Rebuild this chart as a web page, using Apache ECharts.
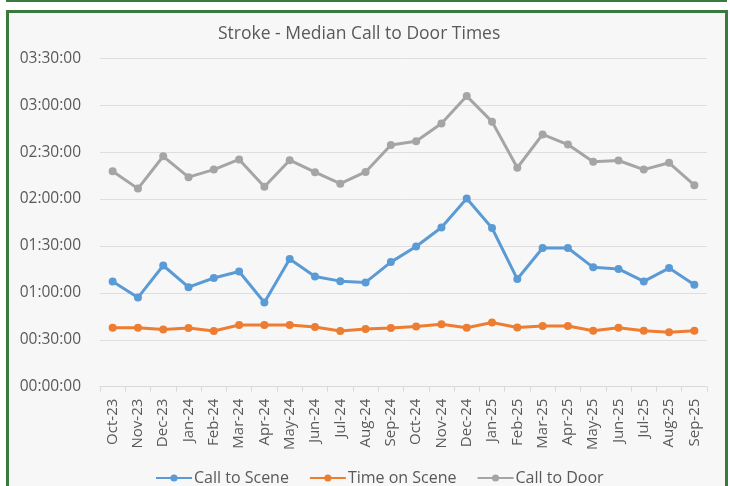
<!DOCTYPE html>
<html>
<head>
<meta charset="utf-8">
<script src="https://cdn.jsdelivr.net/npm/echarts@6/dist/echarts.min.js"></script>
<style>
  html, body { margin: 0; padding: 0; background: #ffffff; }
  #wrap { position: relative; width: 730px; height: 486px; overflow: hidden; background: #ffffff; }
  #topRule { position: absolute; left: 6px; top: 0; width: 721px; height: 2px; background: #3b7a3f; }
  #frame { position: absolute; left: 6px; top: 10px; width: 716px; height: 490px;
           border: 3px solid #3b7a3f; border-bottom: none; background: #f7f7f7; }
  #chart { position: absolute; left: 0; top: 0; width: 730px; height: 486px; }
</style>
</head>
<body>
<div id="wrap">
  <div id="topRule"></div>
  <div id="frame"></div>
  <div id="chart"></div>
</div>
<script>
// Months on the category axis
const months = ['Oct-23','Nov-23','Dec-23','Jan-24','Feb-24','Mar-24','Apr-24','May-24','Jun-24','Jul-24','Aug-24','Sep-24',
                'Oct-24','Nov-24','Dec-24','Jan-25','Feb-25','Mar-25','Apr-25','May-25','Jun-25','Jul-25','Aug-25','Sep-25'];

// Median times (h:mm:ss)
const callToScene = ['1:07:20','0:57:00','1:17:30','1:03:40','1:09:30','1:13:40','0:53:50','1:21:40','1:10:30','1:07:30','1:06:40','1:19:40',
                     '1:29:40','1:41:50','2:00:20','1:41:30','1:08:50','1:28:40','1:28:40','1:16:20','1:15:20','1:07:20','1:15:50','1:05:10'];
const timeOnScene = ['0:37:40','0:37:40','0:36:30','0:37:30','0:35:40','0:39:30','0:39:30','0:39:30','0:38:10','0:35:40','0:36:50','0:37:30',
                     '0:38:30','0:40:00','0:37:40','0:41:00','0:37:50','0:38:50','0:38:50','0:35:50','0:37:40','0:35:50','0:34:50','0:35:50'];
const callToDoor  = ['2:17:50','2:06:40','2:27:20','2:14:00','2:18:50','2:25:20','2:07:50','2:24:50','2:17:10','2:09:50','2:17:20','2:34:30',
                     '2:37:00','2:48:20','3:05:50','2:49:30','2:20:00','2:41:20','2:34:50','2:23:50','2:24:40','2:18:50','2:23:10','2:08:50'];

// Y axis tick range (seconds)
const yMax = 3.5 * 3600;
const yStep = 1800;

function toSeconds(t) {
  const p = t.split(':').map(Number);
  return p[0] * 3600 + p[1] * 60 + p[2];
}
function fmt(sec) {
  const h = Math.floor(sec / 3600), m = Math.floor((sec % 3600) / 60), s = sec % 60;
  const pad = n => String(n).padStart(2, '0');
  return pad(h) + ':' + pad(m) + ':' + pad(s);
}

const FONT = '"Open Sans", "Noto Sans", sans-serif';
const TXT = '#595959';

function lineSeries(name, data, color) {
  return {
    name: name,
    type: 'line',
    data: data.map(toSeconds),
    symbol: 'circle',
    symbolSize: 8,
    lineStyle: { width: 3, color: color },
    itemStyle: { color: color },
    emphasis: { disabled: true }
  };
}

const chart = echarts.init(document.getElementById('chart'), null, { renderer: 'canvas' });
chart.setOption({
  animation: false,
  backgroundColor: 'transparent',
  title: {
    text: 'Stroke - Median Call to Door Times',
    left: 213, top: 20,
    textStyle: { fontFamily: FONT, fontSize: 17.5, fontWeight: 'normal', color: TXT }
  },
  legend: {
    top: 465,
    left: 150,
    itemWidth: 36,
    itemHeight: 9,
    itemGap: 20,
    textStyle: { fontFamily: FONT, fontSize: 16, color: TXT, padding: [0, 0, 0, -3] },
    data: ['Call to Scene', 'Time on Scene', 'Call to Door']
  },
  grid: { left: 100, right: 23, top: 58.3, bottom: 99.3, containLabel: false },
  xAxis: {
    type: 'category',
    data: months,
    boundaryGap: true,
    axisLine: { lineStyle: { color: '#d9d9d9', width: 1 } },
    axisTick: { show: true, length: 5, lineStyle: { color: '#d9d9d9' } },
    axisLabel: { rotate: 90, margin: 12, fontFamily: FONT, fontSize: 15, color: TXT, interval: 0 }
  },
  yAxis: {
    type: 'value',
    min: 0, max: yMax, interval: yStep,
    axisLine: { show: false },
    axisTick: { show: false },
    splitLine: { lineStyle: { color: '#dedede', width: 1 } },
    axisLabel: { margin: 19, fontFamily: FONT, fontSize: 15.5, color: TXT, formatter: v => fmt(v) }
  },
  series: [
    lineSeries('Call to Scene', callToScene, '#5b9bd5'),
    lineSeries('Time on Scene', timeOnScene, '#ed7d31'),
    lineSeries('Call to Door', callToDoor, '#a5a5a5')
  ]
});
</script>
</body>
</html>
